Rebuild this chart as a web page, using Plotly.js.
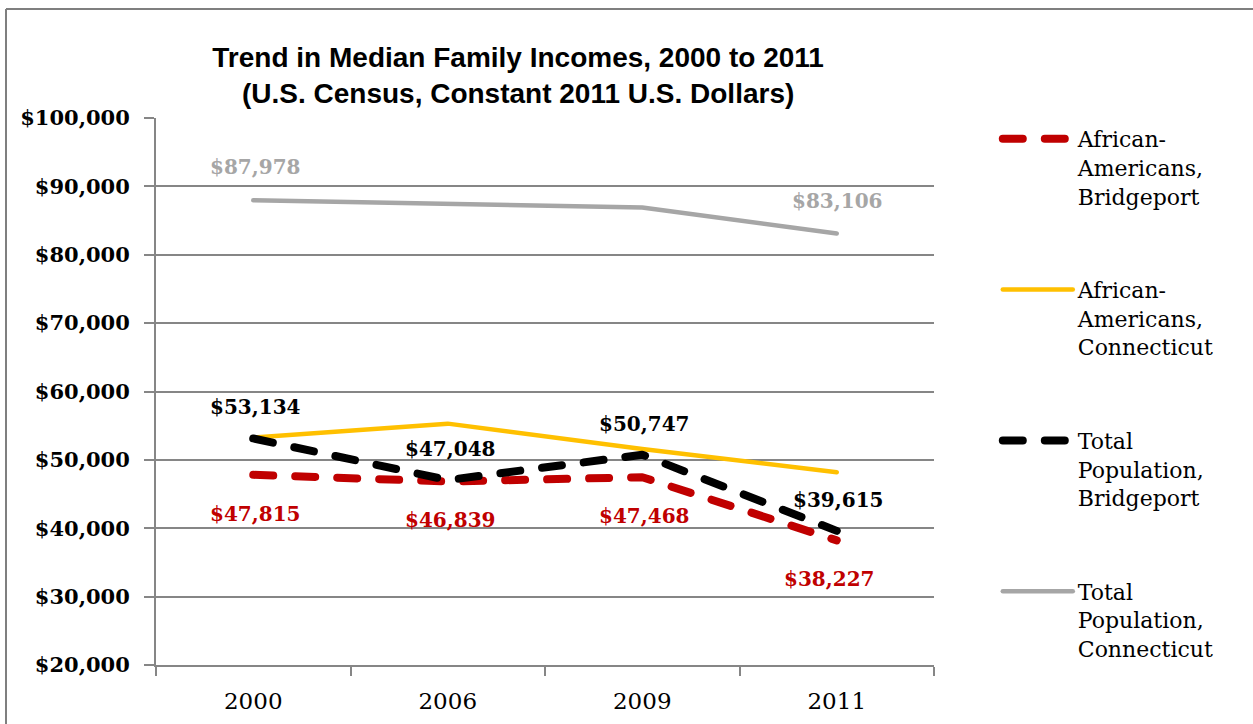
<!DOCTYPE html>
<html>
<head>
<meta charset="utf-8">
<script src="https://cdn.plot.ly/plotly-3.0.1.min.js"></script>
<style>
  html, body { margin: 0; padding: 0; background: #fff; }
  #chart { width: 1253px; height: 724px; }
</style>
</head>
<body>
<div id="chart"></div>
<script>
// ---- data ----
const years = ['2000', '2006', '2009', '2011'];
const aaBridgeport = [47815, 46839, 47468, 38227];
const aaConnecticut = [53250, 55300, 51600, 48200];
const totalBridgeport = [53134, 47048, 50747, 39615];
const totalConnecticut = [87978, 87500, 86900, 83106];
const yTickVals = [20000, 30000, 40000, 50000, 60000, 70000, 80000, 90000, 100000];
const seriesNames = [
  'African-<br>Americans,<br>Bridgeport',
  'African-<br>Americans,<br>Connecticut',
  'Total<br>Population,<br>Bridgeport',
  'Total<br>Population,<br>Connecticut'
];
// indices of points that carry a value label
const labelIdxAABridgeport = [0, 1, 2, 3];
const labelIdxTotalBridgeport = [0, 1, 2, 3];
const labelIdxTotalConnecticut = [0, 3];

const fmt = v => '$' + v.toLocaleString('en-US');

const RED = '#C00000', YELLOW = '#FFC000', BLACK = '#000000', GRAY = '#A6A6A6';
const AXIS = '#868686';

const traces = [
  { x: years, y: aaBridgeport, name: seriesNames[0], mode: 'lines', legendgroup: 'a',
    line: { color: RED, width: 8, dash: '20px,22px' } },
  { x: years, y: aaConnecticut, name: seriesNames[1], mode: 'lines', legendgroup: 'b',
    line: { color: YELLOW, width: 4.5 } },
  { x: years, y: totalBridgeport, name: seriesNames[2], mode: 'lines', legendgroup: 'c',
    line: { color: BLACK, width: 8, dash: '20px,22px' } },
  { x: years, y: totalConnecticut, name: seriesNames[3], mode: 'lines', legendgroup: 'd',
    line: { color: GRAY, width: 4.5 } }
];

const labelFont = { family: 'DejaVu Serif', size: 20, weight: 'bold' };
const annotations = [];
function addLabels(vals, idxs, color, yshift, lastXShift) {
  idxs.forEach(i => {
    annotations.push({
      x: i, y: vals[i], xref: 'x', yref: 'y',
      text: fmt(vals[i]), showarrow: false, yshift: yshift,
      xshift: (i === years.length - 1) ? lastXShift : 2,
      font: Object.assign({ color: color }, labelFont)
    });
  });
}
addLabels(totalConnecticut, labelIdxTotalConnecticut, GRAY, 33, 0);
addLabels(totalBridgeport, labelIdxTotalBridgeport, BLACK, 31, 1);
addLabels(aaBridgeport, labelIdxAABridgeport, RED, -39, -8);

const layout = {
  width: 1253, height: 724,
  margin: { l: 156, r: 319, t: 118, b: 59 },
  paper_bgcolor: '#ffffff', plot_bgcolor: '#ffffff',
  showlegend: true,
  title: {
    text: 'Trend in Median Family Incomes, 2000 to 2011<br>(U.S. Census, Constant 2011 U.S. Dollars)',
    font: { family: 'Liberation Sans', size: 28, weight: 'bold', color: '#000' },
    x: 0.4135, xref: 'container', xanchor: 'center',
    y: 0.908, yref: 'container', yanchor: 'middle'
  },
  xaxis: {
    type: 'category', categoryorder: 'array', categoryarray: years,
    showgrid: false, showline: true, linecolor: AXIS, linewidth: 2,
    ticks: 'outside', tickson: 'boundaries', ticklen: 9, tickwidth: 2, tickcolor: AXIS,
    ticklabelstandoff: 14,
    tickfont: { family: 'DejaVu Serif', size: 23, color: '#000' },
    range: [-0.5, 3.5], fixedrange: true, zeroline: false
  },
  yaxis: {
    range: [20000, 100000], tickvals: yTickVals,
    ticktext: yTickVals.map(fmt),
    showgrid: true, gridcolor: AXIS, gridwidth: 2,
    showline: true, linecolor: AXIS, linewidth: 2,
    ticks: 'outside', ticklen: 10, tickwidth: 2, tickcolor: AXIS,
    ticklabelstandoff: 10,
    tickfont: { family: 'DejaVu Serif', size: 21, weight: 'bold', color: '#000' },
    zeroline: false, fixedrange: true
  },
  legend: {
    x: 1.082, xanchor: 'left', y: 1.0, yanchor: 'top',
    traceorder: 'grouped', tracegroupgap: 62,
    itemwidth: 70, valign: 'top',
    font: { family: 'DejaVu Serif', size: 22, color: '#000' },
    bgcolor: 'rgba(0,0,0,0)'
  },
  annotations: annotations,
  shapes: [
    { type: 'line', xref: 'paper', yref: 'paper', x0: -0.1928, x1: 1.42, y0: 1.1993, y1: 1.1993,
      line: { color: '#7f7f7f', width: 2 } },
    { type: 'line', xref: 'paper', yref: 'paper', x0: -0.1928, x1: -0.1928, y0: 1.1993, y1: -0.11,
      line: { color: '#7f7f7f', width: 2 } }
  ]
};

Plotly.newPlot('chart', traces, layout, { displayModeBar: false, staticPlot: true }).then(gd => {
  gd.querySelectorAll('.scatterlayer path.js-line, .legend path.js-line').forEach(p => {
    p.style.strokeLinecap = 'round';
    p.style.strokeLinejoin = 'round';
  });
});
</script>
</body>
</html>
